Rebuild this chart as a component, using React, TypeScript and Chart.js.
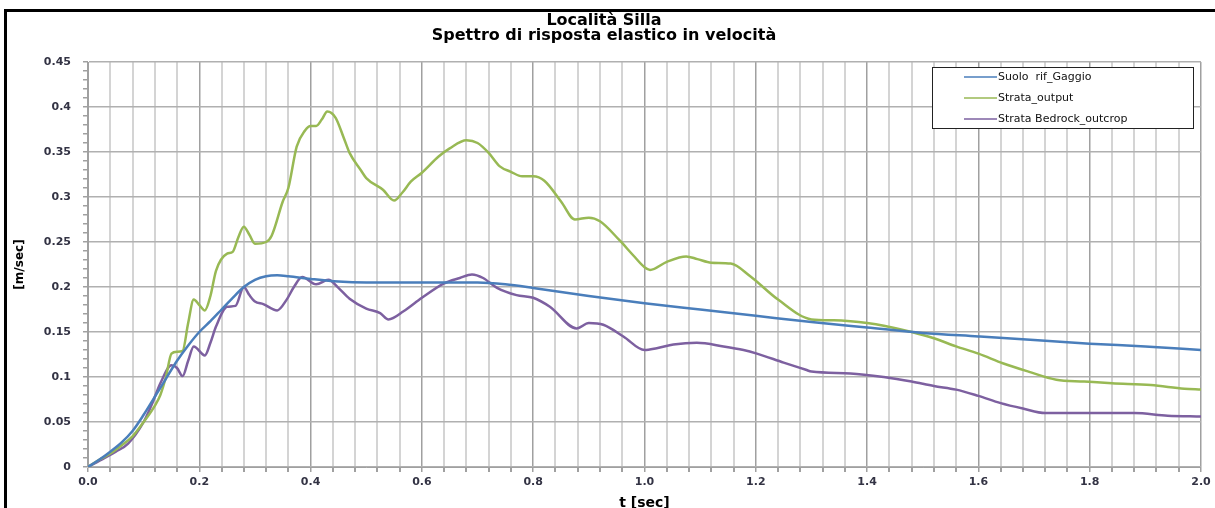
import React, { useEffect, useRef } from "react";
import { Chart, registerables } from "chart.js";

Chart.register(...registerables);

const titleLines = ["Località Silla", "Spettro di risposta elastico in velocità"];
const xTitle = "t [sec]";
const yTitle = "[m/sec]";
const seriesNames = ["Suolo  rif_Gaggio", "Strata_output", "Strata Bedrock_outcrop"];
const seriesColors = ["#4a7ebb", "#98b954", "#7d60a0"];

const suoloT = [0, 0.02, 0.04, 0.06, 0.08, 0.1, 0.12, 0.14, 0.16, 0.18, 0.2, 0.22, 0.24, 0.26, 0.28, 0.3, 0.32, 0.34, 0.36, 0.4, 0.45, 0.5, 0.6, 0.7, 0.75, 0.8, 0.9, 1.0, 1.1, 1.2, 1.3, 1.4, 1.5, 1.6, 1.7, 1.8, 1.9, 2.0];
const suoloV = [0, 0.008, 0.017, 0.027, 0.04, 0.058, 0.078, 0.098, 0.118, 0.135, 0.15, 0.162, 0.175, 0.188, 0.2, 0.208, 0.212, 0.213, 0.212, 0.209, 0.206, 0.205, 0.205, 0.205, 0.203, 0.199, 0.19, 0.182, 0.175, 0.168, 0.161, 0.155, 0.149, 0.145, 0.141, 0.137, 0.134, 0.13];

const outputT = [0, 0.02, 0.04, 0.06, 0.08, 0.1, 0.12, 0.13, 0.14, 0.15, 0.16, 0.17, 0.18, 0.19, 0.2, 0.21, 0.22, 0.23, 0.25, 0.26, 0.27, 0.28, 0.29, 0.3, 0.32, 0.33, 0.35, 0.36, 0.375, 0.39, 0.4, 0.41, 0.42, 0.43, 0.445, 0.46, 0.47, 0.49, 0.5, 0.53, 0.55, 0.565, 0.58, 0.6, 0.63, 0.65, 0.68, 0.7, 0.72, 0.74, 0.76, 0.78, 0.8, 0.82, 0.85, 0.875, 0.9, 0.92, 0.955, 0.98, 1.0, 1.01, 1.04, 1.075, 1.095, 1.12, 1.155, 1.19, 1.24, 1.3, 1.34, 1.37, 1.4, 1.43, 1.48, 1.52, 1.56, 1.6, 1.645, 1.69, 1.74, 1.79, 1.84, 1.91, 1.97, 2.0];
const outputV = [0, 0.008, 0.015, 0.024, 0.034, 0.05, 0.068, 0.08, 0.1, 0.126, 0.128, 0.129, 0.16, 0.186, 0.18, 0.174, 0.19, 0.218, 0.237, 0.239, 0.255, 0.267, 0.258, 0.248, 0.25, 0.257, 0.295, 0.31, 0.356, 0.374, 0.379, 0.379, 0.386, 0.395, 0.388, 0.365, 0.349, 0.33, 0.321, 0.308, 0.296, 0.305, 0.317, 0.327, 0.345, 0.354, 0.363, 0.36, 0.349, 0.334, 0.328, 0.323, 0.323, 0.318, 0.295, 0.275, 0.277, 0.273, 0.252, 0.235, 0.222, 0.219, 0.228, 0.234, 0.231, 0.227, 0.226, 0.212, 0.186, 0.164, 0.163, 0.162, 0.16, 0.157, 0.15, 0.143, 0.134, 0.126, 0.115, 0.106, 0.097, 0.095, 0.093, 0.091, 0.087, 0.086];

const bedrockT = [0, 0.03, 0.05, 0.072, 0.1, 0.115, 0.13, 0.15, 0.16, 0.17, 0.18, 0.19, 0.21, 0.22, 0.23, 0.25, 0.265, 0.28, 0.29, 0.3, 0.315, 0.34, 0.357, 0.37, 0.385, 0.41, 0.432, 0.45, 0.47, 0.5, 0.525, 0.54, 0.567, 0.6, 0.64, 0.668, 0.69, 0.71, 0.735, 0.77, 0.8, 0.83, 0.878, 0.9, 0.926, 0.962, 1.0, 1.022, 1.052, 1.094, 1.142, 1.178, 1.202, 1.25, 1.29, 1.3, 1.37, 1.43, 1.48, 1.52, 1.56, 1.6, 1.64, 1.68, 1.72, 1.79, 1.88, 1.94, 2.0];
const bedrockV = [0, 0.01, 0.017, 0.026, 0.05, 0.07, 0.093, 0.113, 0.11, 0.101, 0.118, 0.134, 0.124, 0.138, 0.156, 0.178, 0.179, 0.2, 0.191, 0.184, 0.181, 0.174, 0.186, 0.2, 0.211, 0.203, 0.208, 0.199, 0.187, 0.176, 0.171, 0.164, 0.173, 0.188, 0.204, 0.21, 0.214, 0.21, 0.199, 0.191, 0.188, 0.178, 0.154, 0.16, 0.158, 0.145, 0.13, 0.132, 0.136, 0.138, 0.134, 0.13, 0.126, 0.116, 0.108, 0.106, 0.104, 0.1, 0.095, 0.09, 0.086, 0.079, 0.071, 0.065, 0.06, 0.06, 0.06, 0.057, 0.056];

const FONT = "'DejaVu Sans', Verdana, sans-serif";

function pts(t: number[], v: number[]) {
  return t.map((x, i) => ({ x, y: v[i] }));
}

const legendPlugin = {
  id: "boxLegend",
  afterDraw(chart: any) {
    const { ctx, chartArea } = chart;
    const w = 261;
    const h = 61;
    const x = chartArea.right - 8 - w;
    const y = chartArea.top + 5;
    ctx.save();
    ctx.fillStyle = "#ffffff";
    ctx.fillRect(x, y, w, h);
    ctx.strokeStyle = "#222222";
    ctx.lineWidth = 1;
    ctx.strokeRect(x + 0.5, y + 0.5, w, h);
    ctx.font = "11px " + FONT;
    ctx.textBaseline = "middle";
    const rows = [10, 31, 52];
    chart.data.datasets.forEach((ds: any, i: number) => {
      const ry = y + rows[i];
      ctx.strokeStyle = ds.borderColor;
      ctx.lineWidth = 1.5;
      ctx.beginPath();
      ctx.moveTo(x + 32, ry);
      ctx.lineTo(x + 65, ry);
      ctx.stroke();
      ctx.fillStyle = "#111111";
      ctx.fillText(ds.label, x + 66, ry);
    });
    ctx.restore();
  },
};

export default function App() {
  const ref = useRef<HTMLCanvasElement | null>(null);
  useEffect(() => {
    if (!ref.current) return;
    const series = [pts(suoloT, suoloV), pts(outputT, outputV), pts(bedrockT, bedrockV)];
    const chart = new Chart(ref.current, {
      type: "line",
      data: {
        datasets: series.map((d, i) => ({
          label: seriesNames[i],
          data: d,
          borderColor: seriesColors[i],
          backgroundColor: seriesColors[i],
          borderWidth: 2.5,
          pointRadius: 0,
          cubicInterpolationMode: "monotone" as const,
          fill: false,
        })),
      },
      options: {
        animation: false,
        responsive: false,
        maintainAspectRatio: false,
        layout: { padding: { left: 0, right: 14, top: 0, bottom: 0 } },
        plugins: {
          legend: { display: false },
          tooltip: { enabled: false },
          title: {
            display: true,
            text: titleLines,
            color: "#000000",
            font: { family: FONT, size: 16, weight: "bold", lineHeight: "15px" },
            padding: { top: 1, bottom: 19 },
          },
        },
        scales: {
          x: {
            type: "linear",
            min: 0,
            max: 2,
            afterFit: (s: any) => {
              s.height = 47;
            },
            ticks: {
              stepSize: 0.04,
              autoSkip: false,
              maxRotation: 0,
              minRotation: 0,
              padding: 4,
              color: "#333344",
              font: { family: FONT, size: 11, weight: "bold" },
              callback: (v: any) => {
                const n = Math.round(Number(v) * 100);
                return n % 20 === 0 ? (n / 100).toFixed(1) : "";
              },
            },
            grid: {
              color: (c: any) => {
                const n = Math.round(c.tick.value * 100);
                return n % 20 === 0 ? "#a0a0a0" : "#d4d4d4";
              },
              lineWidth: (c: any) => {
                const n = Math.round(c.tick.value * 100);
                return n % 20 === 0 ? 1.5 : 2;
              },
              tickColor: "#a0a0a0",
              tickLength: 5,
            },
            border: { color: "#a0a0a0", width: 1 },
            title: {
              display: true,
              text: xTitle,
              color: "#000000",
              font: { family: FONT, size: 14, weight: "bold" },
              padding: { top: 2, bottom: 2 },
            },
          },
          y: {
            type: "linear",
            min: 0,
            max: 0.45,
            afterFit: (s: any) => {
              s.width = 81;
            },
            ticks: {
              stepSize: 0.01,
              autoSkip: false,
              padding: 12,
              color: "#333344",
              font: { family: FONT, size: 11, weight: "bold" },
              callback: (v: any) => {
                const n = Math.round(Number(v) * 100);
                if (n % 5 !== 0) return "";
                if (n === 0) return "0";
                return String(n / 100);
              },
            },
            grid: {
              color: (c: any) => {
                const n = Math.round(c.tick.value * 100);
                return n % 5 === 0 ? "#b0b0b0" : "rgba(0,0,0,0)";
              },
              lineWidth: 1.5,
              tickColor: "#a0a0a0",
              tickLength: 5,
            },
            border: { color: "#a0a0a0", width: 1 },
            title: {
              display: true,
              text: yTitle,
              color: "#000000",
              font: { family: FONT, size: 12, weight: "bold" },
              padding: { top: 6, bottom: 4 },
            },
          },
        },
      },
      plugins: [legendPlugin],
    } as any);
    return () => chart.destroy();
  }, []);

  return (
    <div
      style={{
        position: "fixed",
        left: 4,
        top: 9,
        width: 1300,
        height: 600,
        borderLeft: "3px solid #000",
        borderTop: "3px solid #000",
        background: "#fff",
      }}
    >
      <canvas ref={ref} width={1208} height={502} style={{ display: "block", width: 1208, height: 502 }} />
    </div>
  );
}
